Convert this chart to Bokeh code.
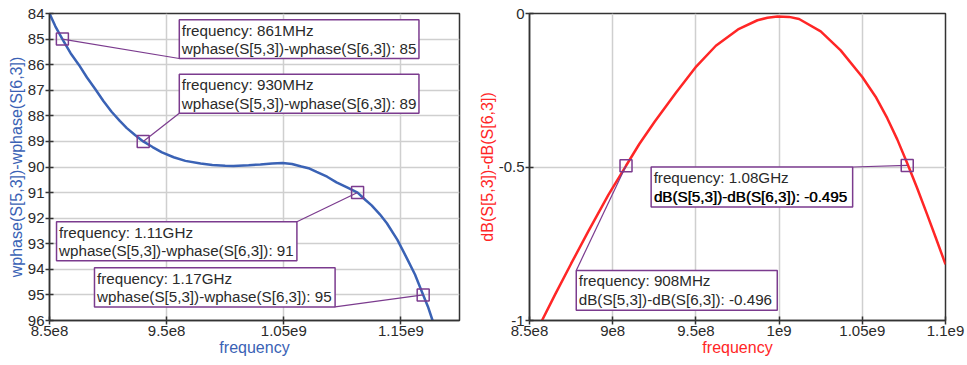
from bokeh.plotting import figure
from bokeh.models import Range1d, FixedTicker
from bokeh.layouts import row
from bokeh.core.properties import value
from bokeh.embed import file_html
from bokeh.resources import INLINE

# ---------------- data ----------------
# left: wphase(S[5,3])-wphase(S[6,3]) vs frequency (MHz)
left_freq_mhz = [850, 855, 861, 868, 875, 882, 889, 896, 903, 910, 916, 923, 930, 938,
                 946, 956, 966, 979, 989, 1000, 1007, 1020, 1030, 1040, 1049, 1057,
                 1065, 1072, 1078, 1087, 1095, 1104, 1113, 1120, 1125, 1132, 1138,
                 1147, 1155, 1162, 1169, 1173, 1177]
left_phase = [84.0, 84.5, 85.0, 85.55, 86.0, 86.5, 86.95, 87.42, 87.84, 88.2, 88.48,
              88.75, 89.0, 89.22, 89.43, 89.62, 89.76, 89.86, 89.92, 89.95, 89.96,
              89.93, 89.9, 89.86, 89.84, 89.88, 89.98, 90.06, 90.19, 90.38, 90.6,
              90.8, 91.0, 91.3, 91.5, 91.85, 92.2, 92.85, 93.56, 94.2, 95.0, 95.45, 96.0]
left_marker_mhz = [861, 930, 1113, 1169]
left_marker_val = [85, 89, 91, 95]
left_marker_freq_txt = ["861MHz", "930MHz", "1.11GHz", "1.17GHz"]
left_marker_val_txt = ["85", "89", "91", "95"]

# right: dB(S[5,3])-dB(S[6,3]) vs frequency (MHz)
right_freq_mhz = [857.5, 865.5, 875, 885.4, 897.4, 908, 916, 925.3, 938, 950.3, 962,
                  975.3, 987, 993, 999, 1006, 1012, 1025, 1037, 1050, 1058, 1065, 1071,
                  1077, 1083, 1089, 1094, 1100]
right_db = [-1.0, -0.914, -0.815, -0.709, -0.591, -0.496, -0.425, -0.352, -0.258,
            -0.172, -0.105, -0.052, -0.022, -0.014, -0.01, -0.011, -0.018, -0.058,
            -0.12, -0.207, -0.271, -0.341, -0.41, -0.488, -0.569, -0.655, -0.728, -0.817]
right_marker_mhz = [1077, 908]
right_marker_val = [-0.495, -0.496]
right_marker_freq_txt = ["1.08GHz", "908MHz"]
right_marker_val_txt = ["-0.495", "-0.496"]

left_xticks = [8.5e8, 9.5e8, 1.05e9, 1.15e9]
left_xtick_labels = ["8.5e8", "9.5e8", "1.05e9", "1.15e9"]
left_yticks = list(range(84, 97))
right_xticks = [8.5e8, 9e8, 9.5e8, 1e9, 1.05e9, 1.1e9]
right_xtick_labels = ["8.5e8", "9e8", "9.5e8", "1e9", "1.05e9", "1.1e9"]
right_yticks = [-1, -0.5, 0]
right_ytick_labels = ["-1", "-0.5", "0"]

# ---------------- style ----------------
FONT = "Liberation Sans"
PURPLE = "#7b3b8e"
BLUE = "#3a62b5"
RED = "#ff2626"
DARK = "#2a2a2a"
GRID = "#cfcfcf"
BOX_FONT = "15.2px"


def style(p, label_color):
    p.background_fill_color = "white"
    p.border_fill_color = "white"
    p.outline_line_color = "#333333"
    p.outline_line_width = 1.5
    for ax in (p.xaxis[0], p.yaxis[0]):
        ax.axis_line_color = "#333333"
        ax.axis_line_width = 1.5
        ax.major_tick_line_color = "#333333"
        ax.major_tick_line_width = 1.5
        ax.major_tick_in = 4
        ax.major_tick_out = 4
        ax.minor_tick_line_color = None
        ax.major_label_text_font = FONT
        ax.major_label_text_font_size = "15px"
        ax.major_label_text_color = DARK
        ax.axis_label_text_font = FONT
        ax.axis_label_text_font_size = "16px"
        ax.axis_label_text_font_style = "normal"
        ax.axis_label_text_color = label_color
        ax.major_label_standoff = 1
        ax.axis_label_standoff = 0
    p.grid.grid_line_color = GRID
    p.grid.grid_line_width = 1.5


def callouts(p, boxes, mk_x, mk_y, freq_txt, val_txt, name, px_unit, bold_idx=None):
    # boxes: (left, right, top, bottom, leader_x, leader_y) in data coords
    lefts = [b[0] for b in boxes]
    rights = [b[1] for b in boxes]
    tops = [b[2] for b in boxes]
    bottoms = [b[3] for b in boxes]
    p.segment(x0=mk_x, y0=mk_y, x1=[b[4] for b in boxes], y1=[b[5] for b in boxes],
              line_color=PURPLE, line_width=1.2)
    p.quad(left=lefts, right=rights, top=tops, bottom=bottoms,
           fill_color="white", line_color=PURPLE, line_width=1.5)
    l1 = ["frequency: " + t for t in freq_txt]
    l2 = [name + ": " + t for t in val_txt]
    y1 = [t + 10.5 * px_unit for t in tops]
    y2 = [t + 29 * px_unit for t in tops]
    common = dict(text_font=value(FONT), text_font_size=BOX_FONT, text_baseline="middle",
                  text_align="left", text_color=DARK, x_offset=2.5)
    p.text(x=lefts, y=y1, text=l1, **common)
    p.text(x=lefts, y=y2, text=l2, **common)
    if bold_idx is not None:
        p.text(x=[lefts[bold_idx]], y=[y2[bold_idx]], text=[l2[bold_idx]],
               text_font=value(FONT), text_font_size=BOX_FONT, text_baseline="middle",
               text_align="left", text_color="black", x_offset=3.0)
    p.scatter(x=mk_x, y=mk_y, marker="square", size=12, fill_alpha=0,
              line_color=PURPLE, line_width=1.5)


# ---------------- left figure ----------------
pl = figure(width=475, height=364, output_backend="svg", toolbar_location=None,
            x_range=Range1d(8.5e8, 1.2e9), y_range=Range1d(96, 84),
            min_border_left=49, min_border_right=16, min_border_top=10, min_border_bottom=41)
style(pl, BLUE)
pl.xaxis.axis_label = "frequency"
pl.yaxis.axis_label = "wphase(S[5,3])-wphase(S[6,3])"
pl.xaxis.ticker = FixedTicker(ticks=left_xticks)
pl.xaxis.major_label_overrides = {t: s for t, s in zip(left_xticks, left_xtick_labels)}
pl.yaxis.ticker = FixedTicker(ticks=left_yticks)

pl.line([f * 1e6 for f in left_freq_mhz], left_phase, line_color=BLUE, line_width=2.5)
lu = 12 / 307.0  # data units per pixel (inverted axis: + is down)
left_boxes = [
    (9.608e8, 1.1654e9, 84.24, 85.76, 9.608e8, 85.76),
    (9.608e8, 1.1654e9, 86.37, 87.90, 9.608e8, 87.90),
    (8.56e8, 1.0612e9, 92.14, 93.66, 1.0612e9, 92.14),
    (8.884e8, 1.0938e9, 93.94, 95.47, 1.0938e9, 95.47),
]
callouts(pl, left_boxes, [f * 1e6 for f in left_marker_mhz], left_marker_val,
         left_marker_freq_txt, left_marker_val_txt, "wphase(S[5,3])-wphase(S[6,3])", lu)

# ---------------- right figure ----------------
pr = figure(width=492, height=364, output_backend="svg", toolbar_location=None,
            x_range=Range1d(8.5e8, 1.1e9), y_range=Range1d(-1, 0),
            min_border_left=53, min_border_right=22, min_border_top=13, min_border_bottom=44)
style(pr, RED)
pr.xaxis.axis_label = "frequency"
pr.yaxis.axis_label = "dB(S[5,3])-dB(S[6,3])"
pr.xaxis.ticker = FixedTicker(ticks=right_xticks)
pr.xaxis.major_label_overrides = {t: s for t, s in zip(right_xticks, right_xtick_labels)}
pr.yaxis.ticker = FixedTicker(ticks=right_yticks)
pr.yaxis.major_label_overrides = {t: s for t, s in zip(right_yticks, right_ytick_labels)}

pr.line([f * 1e6 for f in right_freq_mhz], right_db, line_color=RED, line_width=2.5)
ru = -1 / 307.0
right_boxes = [
    (9.231e8, 1.0442e9, -0.50, -0.63, 1.0442e9, -0.50),
    (8.781e8, 9.989e8, -0.837, -0.967, 8.781e8, -0.837),
]
callouts(pr, right_boxes, [f * 1e6 for f in right_marker_mhz], right_marker_val,
         right_marker_freq_txt, right_marker_val_txt, "dB(S[5,3])-dB(S[6,3])", ru, bold_idx=0)

layout = row(pl, pr)
open("out.html", "w").write(file_html(layout, INLINE))
